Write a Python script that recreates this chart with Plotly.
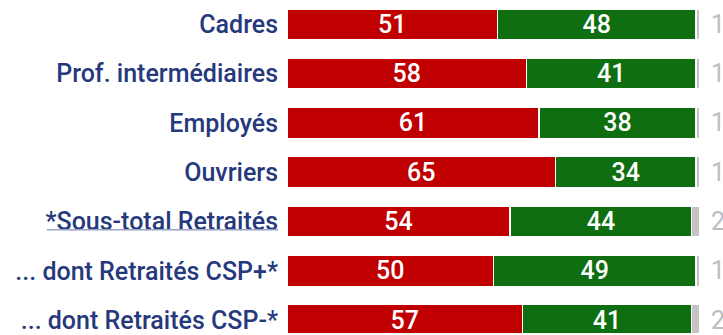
import plotly.graph_objects as go

# Survey breakdown by socio-professional category (percent)
categories = [
    "Cadres",
    "Prof. intermédiaires",
    "Employés",
    "Ouvriers",
    "*Sous-total Retraités",
    "... dont Retraités CSP+*",
    "... dont Retraités CSP-*",
]
contre = [51, 58, 61, 65, 54, 50, 57]
pour = [48, 41, 38, 34, 44, 49, 41]
nsp = [1, 1, 1, 1, 2, 1, 2]

RED = "#C00000"
GREEN = "#0F6E10"
GREY = "#C4C4C4"
NAVY = "#26397C"
FONT = "Roboto"

pos = list(range(len(categories)))

fig = go.Figure()
for vals, color, show in [(contre, RED, True), (pour, GREEN, True), (nsp, GREY, False)]:
    fig.add_trace(go.Bar(
        y=pos, x=vals, orientation="h",
        marker=dict(color=color, line=dict(color="white", width=1.5)),
        width=0.63,
        text=[str(v) for v in vals] if show else None,
        textposition="inside" if show else "none",
        insidetextanchor="middle",
        textangle=0,
        constraintext="none",
        textfont=dict(color="white", size=25, family=FONT, weight=500),
        hoverinfo="skip",
        cliponaxis=False,
    ))

# Grey "no answer" values written past the end of each bar
for p, v in zip(pos, nsp):
    fig.add_annotation(
        x=100, y=p, xref="x", yref="y", text=str(v), showarrow=False,
        xanchor="left", xshift=9, font=dict(color="#BDBDBD", size=25, family=FONT),
    )

# Light link-style underline under the retiree subtotal label
sub_idx = next(i for i, c in enumerate(categories) if c.startswith("*"))
fig.add_shape(
    type="line", xref="paper", yref="y",
    x0=-0.551, x1=-0.0206, y0=sub_idx + 0.165, y1=sub_idx + 0.165,
    line=dict(color="#9AA4C6", width=1.5),
)

fig.update_layout(
    barmode="stack",
    width=723, height=335,
    margin=dict(l=287, r=0, t=0, b=0),
    paper_bgcolor="white", plot_bgcolor="white",
    showlegend=False,
    bargap=0.37,
    uniformtext=dict(minsize=10, mode="show"),
)
fig.update_xaxes(range=[0, 105.57], visible=False, showgrid=False, zeroline=False)
fig.update_yaxes(
    range=[6.26, -0.494], tickvals=pos, ticktext=categories,
    tickfont=dict(color=NAVY, size=25, family=FONT, weight=500),
    showgrid=False, zeroline=False, showline=False, ticks="", ticklabelstandoff=8,
    ticklabeloverflow="allow",
)

fig.write_html("out.html")
